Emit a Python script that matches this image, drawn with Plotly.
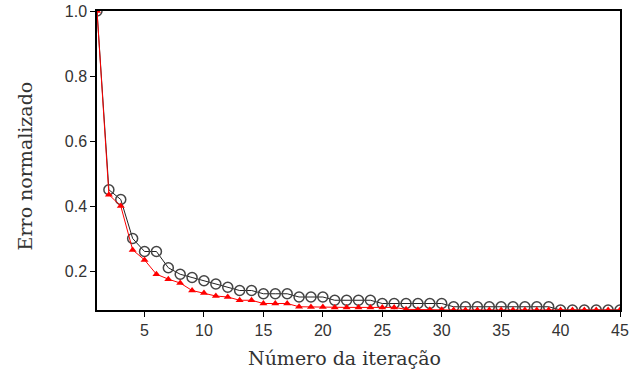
import plotly.graph_objects as go

iteracao = list(range(1, 46))
erro_circulos = [1.00, 0.45, 0.42, 0.30, 0.26, 0.26, 0.21, 0.19, 0.18, 0.17,
                 0.16, 0.15, 0.14, 0.14, 0.13, 0.13, 0.13, 0.12, 0.12, 0.12,
                 0.11, 0.11, 0.11, 0.11, 0.10, 0.10, 0.10, 0.10, 0.10, 0.10,
                 0.09, 0.09, 0.09, 0.09, 0.09, 0.09, 0.09, 0.09, 0.09, 0.08,
                 0.08, 0.08, 0.08, 0.08, 0.08]
erro_triangulos = [1.00, 0.435, 0.40, 0.265, 0.234, 0.19, 0.175, 0.163, 0.14, 0.132,
                   0.123, 0.12, 0.11, 0.11, 0.10, 0.10, 0.10, 0.09, 0.089, 0.089,
                   0.088, 0.088, 0.088, 0.088, 0.088, 0.088, 0.082, 0.081, 0.081, 0.081,
                   0.08, 0.08, 0.08, 0.08, 0.08, 0.08, 0.08, 0.08, 0.08, 0.08,
                   0.08, 0.08, 0.08, 0.08, 0.08]
x_ticks = [5, 10, 15, 20, 25, 30, 35, 40, 45]
y_ticks = [0.2, 0.4, 0.6, 0.8, 1.0]
y_tick_labels = ["0.2", "0.4", "0.6", "0.8", "1.0"]
x_title = "Número da iteração"
y_title = "Erro normalizado"

fig = go.Figure()
fig.add_trace(go.Scatter(
    x=iteracao, y=erro_circulos, mode="lines+markers",
    line=dict(color="#222222", width=1),
    marker=dict(symbol="circle-open", size=10, color="#444444", line=dict(width=1.5)),
    showlegend=False,
))
fig.add_trace(go.Scatter(
    x=iteracao, y=erro_triangulos, mode="lines+markers",
    line=dict(color="#ff0000", width=1),
    marker=dict(symbol="triangle-up", size=7, color="#ff0000"),
    showlegend=False,
))

axis_common = dict(
    showline=True, linecolor="black", linewidth=1.5, mirror=True,
    showgrid=False, zeroline=False, automargin=False,
    ticks="outside", ticklen=5, tickwidth=1, tickcolor="black",
    ticklabeloverflow="allow",
    tickfont=dict(family="Liberation Sans", size=16, color="#333333"),
)
fig.update_xaxes(range=[1, 45], tickvals=x_ticks, **axis_common)
fig.update_yaxes(range=[0.08, 1.0], tickvals=y_ticks, ticktext=y_tick_labels, **axis_common)

title_font = dict(family="DejaVu Serif", size=19, color="#333333")
fig.add_annotation(text=x_title, xref="paper", yref="paper", x=0.474, y=-0.16,
                   showarrow=False, font=title_font, xanchor="center", yanchor="middle")
fig.add_annotation(text=y_title, xref="paper", yref="paper", x=-0.138, y=0.483,
                   showarrow=False, font=title_font, textangle=-90,
                   xanchor="center", yanchor="middle")
fig.update_layout(
    width=642, height=378,
    margin=dict(l=97, r=22, t=11, b=68),
    paper_bgcolor="white", plot_bgcolor="white",
)
fig.write_html("out.html",
               config={"displayModeBar": False},
               post_script="document.body.style.margin='0';document.body.style.overflow='hidden';")
